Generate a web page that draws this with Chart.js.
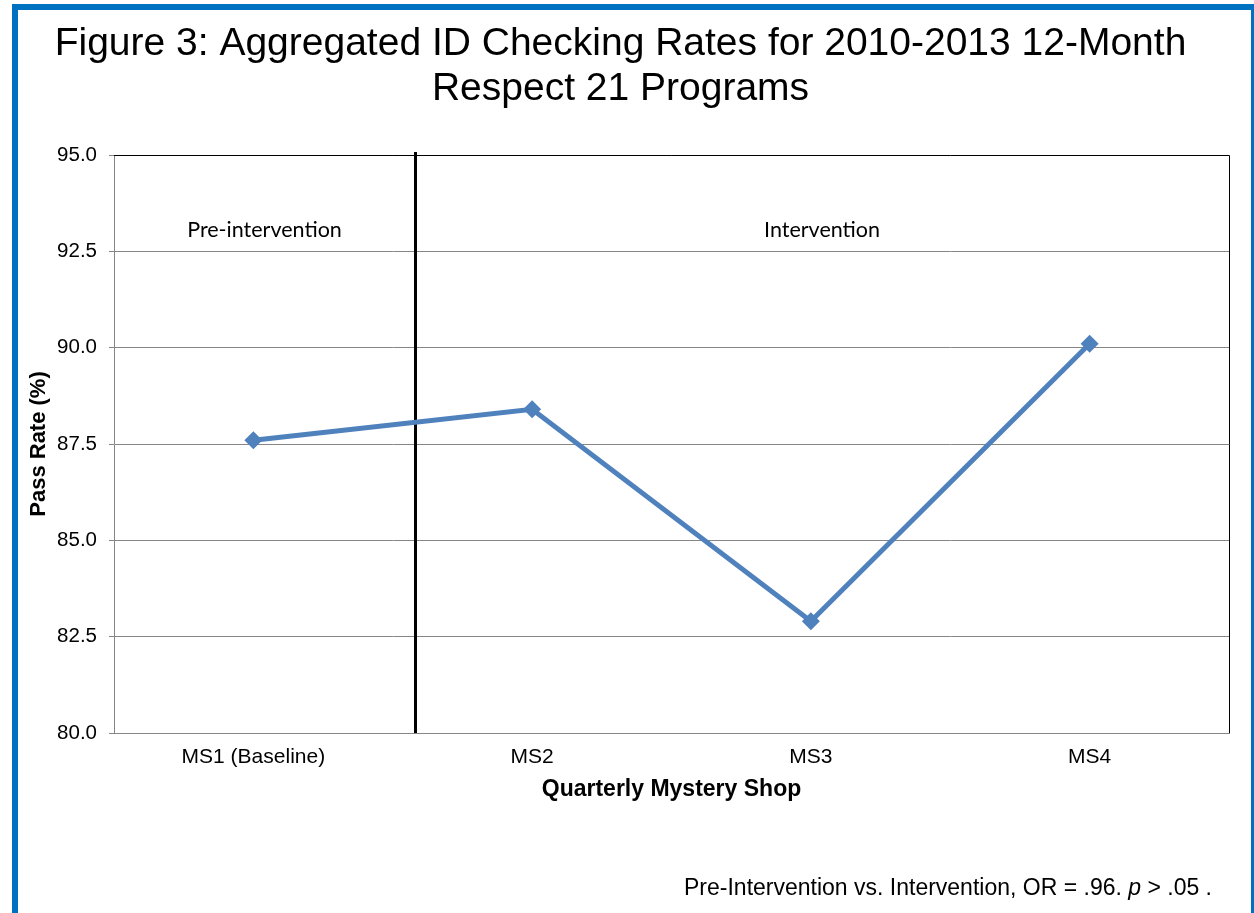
<!DOCTYPE html>
<html>
<head>
<meta charset="utf-8">
<script src="https://cdn.jsdelivr.net/npm/chart.js@4/dist/chart.umd.min.js"></script>
<style>
  body { margin: 0; background: #fff; }
  canvas { display: block; }
</style>
</head>
<body>
<canvas id="lineChart" width="1254" height="913"></canvas>
<script>
// Aggregated ID checking rates by quarterly mystery shop
var categories = ['MS1 (Baseline)', 'MS2', 'MS3', 'MS4'];
var passRate = [87.6, 88.4, 82.9, 90.1];

// y axis range
var yMin = 80;
var yMax = 95;
var yStep = 2.5;

// phase split (between MS1 and MS2) and phase labels
var phaseSplit = 0.58;
var phaseLabels = ['Pre-intervention', 'Intervention'];
var phaseLabelAt = [0.04, 2.04];
var phaseLabelY = 93.05;

var footnote = ['Pre-Intervention vs. Intervention, OR = .96. ', 'p', ' > .05 .'];

var ARIAL = '"Liberation Sans", Arial, sans-serif';

// frame, plot border, phase line and text drawn on top
var extras = {
    id: 'extras',
    beforeDraw: function(chart) {
        var ctx = chart.ctx;
        ctx.save();
        ctx.fillStyle = '#fff';
        ctx.fillRect(0, 0, chart.width, chart.height);
        ctx.restore();
    },
    beforeDatasetsDraw: function(chart) {
        var ctx = chart.ctx;
        var a = chart.chartArea;
        var x = chart.scales.x;
        ctx.save();
        // top and right border of plot area
        ctx.strokeStyle = '#000';
        ctx.lineWidth = 1;
        ctx.beginPath();
        ctx.moveTo(a.left, a.top + 0.5);
        ctx.lineTo(a.right + 0.5, a.top + 0.5);
        ctx.lineTo(a.right + 0.5, a.bottom);
        ctx.stroke();

        // pre / post split line
        var px = Math.round(x.getPixelForValue(phaseSplit)) + 0.5;
        ctx.lineWidth = 3;
        ctx.beginPath();
        ctx.moveTo(px, a.top - 3);
        ctx.lineTo(px, a.bottom);
        ctx.stroke();

        // phase labels
        ctx.fillStyle = '#000';
        ctx.font = '21.5px Lato, "Open Sans", sans-serif';
        ctx.textAlign = 'center';
        ctx.textBaseline = 'middle';
        var py = chart.scales.y.getPixelForValue(phaseLabelY);
        for (var i = 0; i < phaseLabels.length; i++) {
            ctx.fillText(phaseLabels[i], x.getPixelForValue(phaseLabelAt[i]), py);
        }
        ctx.restore();
    },
    afterDraw: function(chart) {
        var ctx = chart.ctx;
        ctx.save();
        // footnote, p in italics
        ctx.fillStyle = '#000';
        ctx.textBaseline = 'alphabetic';
        ctx.textAlign = 'left';
        var fonts = ['23px ' + ARIAL, 'italic 23px ' + ARIAL, '23px ' + ARIAL];
        var total = 0;
        for (var i = 0; i < footnote.length; i++) {
            ctx.font = fonts[i];
            total += ctx.measureText(footnote[i]).width;
        }
        var fx = 1212 - total;
        for (var j = 0; j < footnote.length; j++) {
            ctx.font = fonts[j];
            ctx.fillText(footnote[j], fx, 895);
            fx += ctx.measureText(footnote[j]).width;
        }

        // blue frame round the figure
        ctx.strokeStyle = '#0070C0';
        ctx.lineWidth = 6;
        ctx.beginPath();
        ctx.moveTo(15, chart.height + 10);
        ctx.lineTo(15, 7);
        ctx.lineTo(1254, 7);
        ctx.stroke();
        ctx.fillStyle = '#0070C0';
        ctx.fillRect(1251, 7, 3, chart.height);
        ctx.restore();
    }
};

var ctxLine = document.getElementById('lineChart').getContext('2d');
var lineChart = new Chart(ctxLine, {
    type: 'line',
    data: {
        labels: categories,
        datasets: [{
            label: 'Pass Rate',
            data: passRate,
            borderColor: '#4F81BD',
            backgroundColor: '#4F81BD',
            borderWidth: 5,
            pointStyle: 'rectRot',
            pointRadius: 9,
            pointBorderWidth: 0,
            tension: 0
        }]
    },
    options: {
        responsive: false,
        animation: false,
        layout: {
            padding: { left: 12, right: 25, top: 0, bottom: 100 }
        },
        plugins: {
            legend: { display: false },
            tooltip: { enabled: false },
            title: {
                display: true,
                text: ['Figure 3: Aggregated ID Checking Rates for 2010-2013 12-Month', 'Respect 21 Programs'],
                color: '#000',
                font: { family: ARIAL, size: 39, weight: 'normal', lineHeight: '45px' },
                padding: { top: 22, bottom: 43 }
            }
        },
        scales: {
            x: {
                type: 'category',
                offset: true,
                grid: { display: false, drawTicks: false },
                border: { color: '#868686', width: 1 },
                ticks: {
                    color: '#000',
                    padding: 12,
                    maxRotation: 0,
                    font: { family: ARIAL, size: 21 }
                },
                title: {
                    display: true,
                    text: 'Quarterly Mystery Shop',
                    color: '#000',
                    font: { family: ARIAL, size: 23, weight: 'bold', lineHeight: 1.2 },
                    padding: { top: 0, bottom: 10 }
                },
                afterFit: function(scale) { scale.height = 80; }
            },
            y: {
                min: yMin,
                max: yMax,
                grid: { color: '#868686', tickLength: 5, drawTicks: true },
                border: { color: '#868686', width: 1 },
                ticks: {
                    stepSize: yStep,
                    color: '#000',
                    padding: 12,
                    font: { family: ARIAL, size: 20.5 },
                    callback: function(value) { return value.toFixed(1); }
                },
                title: {
                    display: true,
                    text: 'Pass Rate (%)',
                    color: '#000',
                    font: { family: ARIAL, size: 22, weight: 'bold', lineHeight: 1.2 },
                    padding: { top: 14, bottom: 0 }
                },
                afterFit: function(scale) { scale.width = 102; }
            }
        }
    },
    plugins: [extras]
});
</script>
</body>
</html>
